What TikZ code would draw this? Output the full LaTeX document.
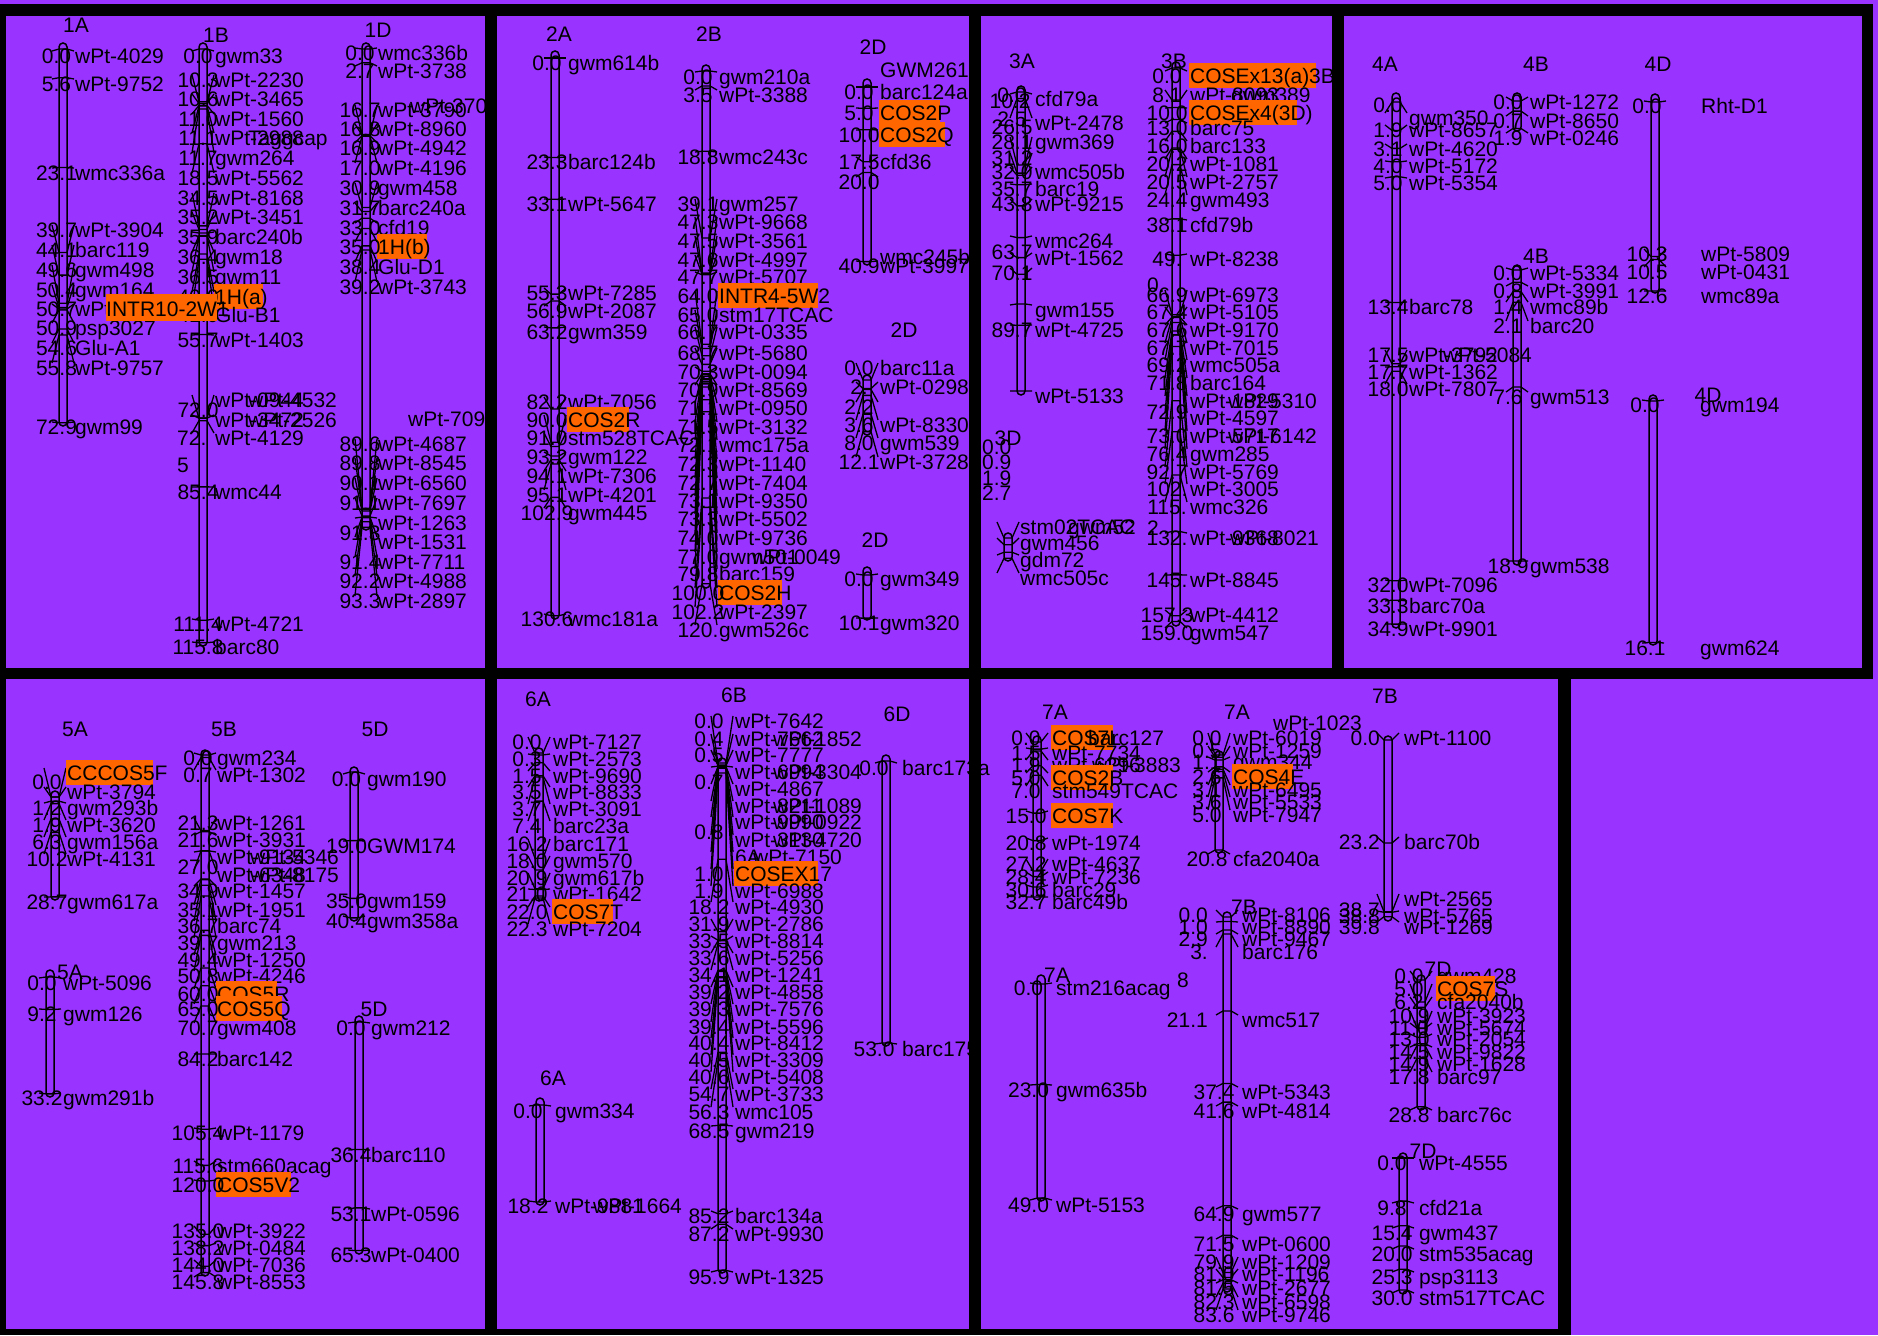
\documentclass[tikz,border=0pt]{standalone}
\usepackage{fontspec}
\setmainfont{Liberation Sans}
\definecolor{pbg}{HTML}{9933FF}
\definecolor{hor}{HTML}{FF6600}
\newcounter{nd}
\newcommand\lf{\fontsize{21}{21}\selectfont}
\newcommand\setchr[5]{\def\cx{#1}\def\ctop{#2}\def\cscale{#3}\def\numoff{#4}\def\nameoff{#5}}
\def\numanch{base}
\newcommand\chrom[2]{\draw[chr] (\cx-4,#1) rectangle (\cx+4,#2);}
\newcommand\mk[4]{%
 \pgfmathsetmacro\tk{\ctop+(#2)*\cscale}%
 \pgfmathsetmacro\ly{#1-5}%
 \draw[mln] (\cx-11,\ly) -- (\cx-4,\tk) -- (\cx+4,\tk) -- (\cx+11,\ly);%
 \stepcounter{nd}\node[lbl,anchor=\numanch] (n\arabic{nd}) at (\cx+\numoff,#1+7.5) {#3};%
 \stepcounter{nd}\node[lbl,anchor=base west] (n\arabic{nd}) at (\cx+\nameoff,#1+7.5) {#4};%
}
\newcommand\mkb[5]{%
 \pgfmathsetmacro\tk{\ctop+(#2)*\cscale}%
 \pgfmathsetmacro\ly{#1-5}%
 \draw[mln] (\cx-11,\ly) -- (\cx-4,\tk) -- (\cx+4,\tk) -- (\cx+11,\ly);%
 \fill[hor] (\cx+\nameoff-1,#1-13) rectangle (#5,#1+12);%
 \stepcounter{nd}\node[lbl,anchor=\numanch] (n\arabic{nd}) at (\cx+\numoff,#1+7.5) {#3};%
 \stepcounter{nd}\node[lbl,anchor=base west] (n\arabic{nd}) at (\cx+\nameoff,#1+7.5) {#4};%
}
\newcommand\ftw[3]{\stepcounter{nd}\node[lbl,anchor=base west] (n\arabic{nd}) at (#1,#2+7.5) {#3};}
\newcommand\ftc[3]{\stepcounter{nd}\node[lbl,anchor=base] (n\arabic{nd}) at (#1,#2+7.5) {#3};}
\newcommand\fte[3]{\stepcounter{nd}\node[lbl,anchor=base east] (n\arabic{nd}) at (#1,#2+7.5) {#3};}
\begin{document}
\begin{tikzpicture}[x=1pt,y=-1pt,
  lbl/.style={font=\lf,inner sep=0pt,text=black},
  mln/.style={line width=1.3pt,line join=round},
  chr/.style={draw=black,line width=1.5pt,rounded corners=4pt}]
\useasboundingbox (0,0) rectangle (1878,1335);
\fill[pbg] (0,0) rectangle (1878,1335);
% ================= PANEL 1 =================
\ftc{76}{25}{1A}\ftc{216}{35}{1B}\ftc{378}{30}{1D}
\setchr{63}{49}{5.127}{-6.5}{12}
\chrom{43}{426}
\mk{56}{0}{0.0}{wPt-4029}
\mk{84}{5.6}{5.6}{wPt-9752}
\mk{173}{23.1}{23.1}{wmc336a}
\mk{230}{39.7}{39.7}{wPt-3904}
\mk{250}{44.1}{44.1}{barc119}
\mk{270}{49.6}{49.6}{gwm498}
\mk{290}{50.4}{50.4}{gwm164}
\mk{309}{50.7}{50.7}{wPt}
\mk{328}{50.9}{50.9}{psp3027}
\mk{348}{54.6}{54.6}{Glu-A1}
\mk{368}{55.8}{55.8}{wPt-9757}
\mk{427}{72.9}{72.9}{gwm99}
\setchr{203}{49}{5.127}{-5}{12}
\chrom{43}{646}
\mk{56}{0}{0.0}{gwm33}
\mk{80}{10.3}{10.3}{wPt-2230}
\mk{99}{10.6}{10.6}{wPt-3465}
\mk{119}{11.0}{11.0}{wPt-1560}
\mk{138}{11.1}{11.1}{wPt-2988}
\ftw{248}{138}{Taggcap}
\mk{158}{11.7}{11.7}{gwm264}
\mk{178}{18.5}{18.5}{wPt-5562}
\mk{198}{34.5}{34.5}{wPt-8168}
\mk{217}{35.2}{35.2}{wPt-3451}
\mk{237}{35.9}{35.9}{barc240b}
\mk{257}{36.4}{36.4}{gwm18}
\mk{277}{36.5}{36.5}{gwm11}
\mkb{297}{40.0}{40.0}{1H(a)}{263}
\mk{315}{41.0}{41.0}{Glu-B1}
\mk{340}{55.7}{55.7}{wPt-1403}
\mk{400}{72.0}{}{wPt-0944}
\ftw{248}{400}{wPt-4532}
\mk{420}{72.0}{}{wPt-3472}
\ftw{248}{420}{wPt-2526}
\ftc{198}{410}{72.0}
\mk{438}{72.5}{}{wPt-4129}
\ftw{177}{438}{72.}
\ftw{177}{465}{5}
\mk{492}{85.4}{85.4}{wmc44}
\mk{624}{111.4}{111.4}{wPt-4721}
\mk{647}{115.8}{115.8}{barc80}
\setchr{366}{49}{5.127}{-6}{12}
\chrom{43}{530}
\mk{53}{0}{0.0}{wmc336b}
\mk{71}{2.7}{2.7}{wPt-3738}
\mk{110}{16.7}{16.7}{wPt-3790}
\ftw{410}{106}{wPt-370}
\mk{129}{16.8}{16.8}{wPt-8960}
\mk{148}{16.9}{16.9}{wPt-4942}
\mk{168}{17.0}{17.0}{wPt-4196}
\mk{188}{30.9}{30.9}{gwm458}
\mk{208}{31.7}{31.7}{barc240a}
\mk{228}{33.0}{33.0}{cfd19}
\mkb{247}{35.0}{35.0}{1H(b)}{427}
\mk{267}{38.4}{38.4}{Glu-D1}
\mk{287}{39.2}{39.2}{wPt-3743}
\ftw{408}{419}{wPt-709}
\mk{444}{89.6}{89.6}{wPt-4687}
\mk{463}{89.8}{89.8}{wPt-8545}
\mk{483}{90.1}{90.1}{wPt-6560}
\mk{503}{91.1}{91.1}{wPt-7697}
\mk{523}{91.3}{}{wPt-1263}
\mk{542}{91.3}{}{wPt-1531}
\ftc{360}{533}{91.3}
\mk{562}{91.4}{91.4}{wPt-7711}
\mk{581}{92.2}{92.2}{wPt-4988}
\mk{601}{93.3}{93.3}{wPt-2897}
\fill[hor] (106,294) rectangle (217,321);
\ftw{106}{309}{INTR10-2W1}
% ================= PANEL 2 =================
\ftc{559}{34}{2A}\ftc{709}{34}{2B}\ftc{873}{47}{2D}\ftc{904}{330}{2D}\ftc{875}{540}{2D}
\setchr{555}{58}{4.27}{-8}{13}
\chrom{51}{619}
\mk{63}{0}{0.0}{gwm614b}
\mk{162}{23.3}{23.3}{barc124b}
\mk{204}{33.1}{33.1}{wPt-5647}
\mk{293}{55.3}{55.3}{wPt-7285}
\mk{311}{56.9}{56.9}{wPt-2087}
\mk{332}{63.2}{63.2}{gwm359}
\mk{402}{82.2}{82.2}{wPt-7056}
\mkb{420}{90.0}{90.0}{COS2R}{629}
\mk{438}{91.0}{91.0}{stm528TCAC}
\mk{457}{93.2}{93.2}{gwm122}
\mk{476}{94.1}{94.1}{wPt-7306}
\mk{495}{95.1}{95.1}{wPt-4201}
\mk{513}{102.9}{102.9}{gwm445}
\mk{619}{130.6}{130.6}{wmc181a}
\setchr{706}{71}{4.27}{-8}{13}
\chrom{65}{588}
\mk{77}{0}{0.0}{gwm210a}
\mk{95}{3.5}{3.5}{wPt-3388}
\mk{157}{18.8}{18.8}{wmc243c}
\mk{204}{39.1}{39.1}{gwm257}
\mk{222}{47.3}{47.3}{wPt-9668}
\mk{241}{47.5}{47.5}{wPt-3561}
\mk{260}{47.6}{47.6}{wPt-4997}
\mk{277}{47.7}{47.7}{wPt-5707}
\mkb{296}{64.0}{64.0}{INTR4-5W2}{818}
\mk{315}{65.0}{65.0}{stm17TCAC}
\mk{332}{66.7}{66.7}{wPt-0335}
\mk{353}{68.7}{68.7}{wPt-5680}
\mk{372}{70.3}{70.3}{wPt-0094}
\mk{390}{70.9}{70.9}{wPt-8569}
\mk{408}{71.1}{71.1}{wPt-0950}
\mk{427}{71.5}{71.5}{wPt-3132}
\mk{445}{72.1}{72.1}{wmc175a}
\mk{464}{72.3}{72.3}{wPt-1140}
\mk{483}{72.7}{72.7}{wPt-7404}
\mk{501}{73.1}{73.1}{wPt-9350}
\mk{519}{73.3}{73.3}{wPt-5502}
\mk{538}{74.0}{74.0}{wPt-9736}
\mk{557}{77.0}{77.0}{gwm501}
\ftw{752}{557}{wPt-0049}
\mk{574}{79.8}{79.8}{barc159}
\mkb{593}{100.0}{100.0}{COS2H}{782}
\mk{612}{102.2}{102.2}{wPt-2397}
\mk{630}{120.1}{120.}{gwm526c}
\setchr{867}{87}{4.27}{-8}{13}
\chrom{79}{265}
\ftw{880}{70}{GWM261}
\mk{92}{0}{0.0}{barc124a}
\mkb{113}{5}{5.0}{COS2P}{940}
\mkb{135}{10}{10.0}{COS2Q}{945}
\mk{162}{17.5}{17.5}{cfd36}
\mk{182}{20}{20.0}{}
\ftw{880}{257}{wmc245b}
\mk{266}{40.9}{40.9}{wPt-3997}
\setchr{867}{380}{4.27}{-8}{13}
\chrom{375}{435}
\mk{368}{0}{0.0}{barc11a}
\mk{387}{2.0}{2.}{wPt-0298}
\mk{407}{2.2}{2.2}{}
\mk{425}{3.6}{3.6}{wPt-8330}
\mk{443}{8.0}{8.0}{gwm539}
\mk{462}{12.1}{12.1}{wPt-3728}
\setchr{867}{575}{4.27}{-8}{13}
\chrom{567}{620}
\mk{579}{0}{0.0}{gwm349}
\mk{623}{10.1}{10.1}{gwm320}
% ================= PANEL 3 =================
\ftc{1022}{61}{3A}\ftc{1174}{61}{3B}\ftc{1008}{438}{3D}
\setchr{1021}{92}{2.6}{-9}{14}
\chrom{86}{395}
\mk{99}{0}{}{cfd79a}
\ftc{1012}{95}{0.0}\ftc{1010}{101}{10.2}
\mk{123}{2.5}{}{wPt-2478}
\ftc{1012}{119}{2.5}\ftc{1012}{127}{26.5}
\mk{142}{28.1}{28.1}{gwm369}
\mk{158}{31.2}{31.2}{}
\mk{172}{32.0}{32.0}{wmc505b}
\mk{189}{35.7}{35.7}{barc19}
\mk{204}{43.8}{43.8}{wPt-9215}
\mk{241}{56}{}{wmc264}
\mk{258}{63.7}{}{wPt-1562}
\ftc{1012}{252}{63.7}
\mk{273}{70.1}{70.1}{}
\mk{310}{81.5}{}{gwm155}
\mk{330}{89.7}{89.7}{wPt-4725}
\mk{396}{115}{}{wPt-5133}
\setchr{1176}{68}{3.96}{-9}{14}
\chrom{62}{626}
\mkb{76}{0}{0.0}{COSEx13(a)3B}{1316}
\mk{95}{8.1}{8.1}{wPt-8093}
\ftw{1231}{95}{gwm389}
\mkb{113}{10.0}{10.0}{COSEx4(3D)}{1297}
\mk{128}{13.0}{13.0}{barc75}
\mk{146}{16.0}{16.0}{barc133}
\mk{164}{20.2}{20.2}{wPt-1081}
\mk{182}{20.5}{20.5}{wPt-2757}
\mk{200}{24.4}{24.4}{gwm493}
\setchr{1176}{92}{3.33}{-9}{14}
\mk{225}{38.1}{38.1}{cfd79b}
\mk{259}{49.0}{49.}{wPt-8238}
\ftw{1147}{285}{0.}
\mk{295}{66.9}{66.9}{wPt-6973}
\mk{312}{67.4}{67.4}{wPt-5105}
\mk{330}{67.6}{67.6}{wPt-9170}
\mk{348}{67.7}{67.7}{wPt-7015}
\mk{365}{69.2}{69.2}{wmc505a}
\mk{383}{71.8}{71.8}{barc164}
\mk{401}{72.9}{}{wPt-1829}
\ftw{1228}{401}{wPt-5310}
\mk{418}{72.9}{}{wPt-4597}
\ftc{1167}{412}{72.9}
\mk{436}{73.0}{73.0}{wPt-5717}
\ftw{1228}{436}{wPt-6142}
\mk{454}{76.4}{76.4}{gwm285}
\mk{472}{92.7}{92.7}{wPt-5769}
\mk{489}{102}{102.}{wPt-3005}
\mk{507}{115}{115.}{wmc326}
\ftw{1147}{528}{2}
\mk{538}{132}{132.}{wPt-9368}
\ftw{1230}{538}{wPt-8021}
\mk{580}{145}{145.}{wPt-8845}
\mk{615}{157.3}{157.3}{wPt-4412}
\mk{633}{159.0}{159.0}{gwm547}
\setchr{1008}{538}{7.5}{0}{12}
\chrom{533}{561}
\mk{527}{0}{}{stm02TCAC}
\ftw{1068}{527}{gwm52}
\mk{543}{0.9}{}{gwm456}
\mk{560}{1.9}{}{gdm72}
\mk{578}{2.7}{}{wmc505c}
\ftw{982}{447}{0.0}\ftw{982}{462}{0.9}\ftw{982}{478}{1.9}\ftw{982}{493}{2.7}
% ================= PANEL 4 =================
\ftc{1385}{64}{4A}\ftc{1536}{64}{4B}\ftc{1658}{64}{4D}\ftc{1536}{256}{4B}\ftc{1708}{395}{4D}
\setchr{1396}{102}{14.96}{-8}{13}
\chrom{93}{628}
\mk{118}{0}{}{gwm350}
\ftc{1388}{105}{0.0}
\mk{130}{1.9}{1.9}{wPt-8657}
\mk{149}{3.1}{3.1}{wPt-4620}
\mk{166}{4.0}{4.0}{wPt-5172}
\mk{183}{5.0}{5.0}{wPt-5354}
\mk{307}{13.4}{13.4}{barc78}
\mk{355}{17.5}{17.5}{wPt-3792}
\ftw{1443}{355}{wPt-5084}
\mk{372}{17.7}{17.7}{wPt-1362}
\mk{389}{18.0}{18.0}{wPt-7807}
\mk{585}{32.0}{32.0}{wPt-7096}
\mk{606}{33.3}{33.3}{barc70a}
\mk{629}{34.9}{34.9}{wPt-9901}
\setchr{1517}{101}{14.5}{-9}{13}
\chrom{93}{131}
\mk{102}{0}{0.0}{wPt-1272}
\mk{121}{0.7}{0.7}{wPt-8650}
\mk{138}{1.9}{1.9}{wPt-0246}
\setchr{1517}{270}{15.4}{-9}{13}
\chrom{265}{565}
\mk{273}{0}{0.0}{wPt-5334}
\mk{291}{0.8}{0.8}{wPt-3991}
\mk{307}{1.4}{1.4}{wmc89b}
\mk{326}{2.1}{2.1}{barc20}
\mk{397}{7.6}{7.6}{gwm513}
\mk{566}{18.9}{18.9}{gwm538}
\setchr{1655}{102}{15}{-8}{46}
\chrom{94}{293}
\mk{106}{0}{0.0}{Rht-D1}
\mk{254}{10.3}{10.3}{wPt-5809}
\mk{272}{10.5}{10.5}{wPt-0431}
\mk{296}{12.6}{12.6}{wmc89a}
\setchr{1653}{401}{15}{-8}{47}
\chrom{395}{645}
\mk{405}{0}{0.0}{gwm194}
\mk{648}{16.1}{16.1}{gwm624}
% ================= PANEL 5 =================
\ftc{75}{729}{5A}\ftc{224}{729}{5B}\ftc{375}{729}{5D}\ftc{70}{972}{5A}\ftc{374}{1009}{5D}
\setchr{55}{797}{3.48}{-8}{12}
\chrom{791}{900}
\mkb{773}{0}{}{CCCOS5F}{153}
\mk{792}{0}{}{wPt-3794}
\ftc{47}{782}{0.0}
\mk{808}{1.2}{1.2}{gwm293b}
\mk{825}{1.9}{1.9}{wPt-3620}
\mk{842}{6.3}{6.3}{gwm156a}
\mk{859}{10.2}{10.2}{wPt-4131}
\mk{902}{28.7}{28.7}{gwm617a}
\setchr{50}{977}{3.52}{-8}{13}
\chrom{970}{1097}
\mk{983}{0}{0.0}{wPt-5096}
\mk{1014}{9.2}{9.2}{gwm126}
\mk{1098}{33.2}{33.2}{gwm291b}
\setchr{205}{755}{3.55}{-7}{12}
\chrom{750}{1276}
\mk{758}{0}{0.0}{gwm234}
\mk{775}{0.7}{0.7}{wPt-1302}
\mk{823}{21.3}{21.3}{wPt-1261}
\mk{840}{21.6}{21.6}{wPt-3931}
\mk{857}{27.0}{}{wPt-9134}
\ftw{250}{857}{wPt-5346}
\mk{875}{27.0}{}{wPt-6348}
\ftw{250}{875}{wPt-8175}
\ftc{198}{867}{27.0}
\mk{891}{34.9}{34.9}{wPt-1457}
\mk{910}{35.1}{35.1}{wPt-1951}
\mk{926}{36.7}{36.7}{barc74}
\mk{943}{39.7}{39.7}{gwm213}
\mk{960}{49.4}{49.4}{wPt-1250}
\mk{976}{50.8}{50.8}{wPt-4246}
\mkb{994}{60.0}{60.0}{COS5R}{277}
\mkb{1009}{65.0}{65.0}{COS5Q}{282}
\mk{1028}{70.7}{70.7}{gwm408}
\mk{1059}{84.2}{84.2}{barc142}
\mk{1133}{105.4}{105.4}{wPt-1179}
\mk{1166}{115.6}{115.6}{stm660acag}
\mkb{1185}{120.0}{120.0}{COS5V2}{291}
\mk{1231}{135.0}{135.0}{wPt-3922}
\mk{1248}{138.2}{138.2}{wPt-0484}
\mk{1265}{144.0}{144.0}{wPt-7036}
\mk{1282}{145.8}{145.8}{wPt-8553}
\setchr{354}{772}{3.61}{-7.5}{13}
\chrom{767}{921}
\mk{779}{0}{0.0}{gwm190}
\mk{846}{19.0}{19.0}{GWM174}
\mk{901}{35.0}{35.0}{gwm159}
\mk{921}{40.4}{40.4}{gwm358a}
\setchr{359}{1022}{3.5}{-8}{12}
\chrom{1016}{1254}
\mk{1028}{0}{0.0}{gwm212}
\mk{1155}{36.4}{36.4}{barc110}
\mk{1214}{53.1}{53.1}{wPt-0596}
\mk{1255}{65.3}{65.3}{wPt-0400}
% ================= PANEL 6 =================
\ftc{538}{699}{6A}\ftc{734}{695}{6B}\ftc{897}{714}{6D}\ftc{553}{1078}{6A}
\setchr{539}{753}{6.5}{-12}{14}
\chrom{748}{901}
\mk{742}{0}{0.0}{wPt-7127}
\mk{759}{0.3}{0.3}{wPt-2573}
\mk{776}{1.5}{1.5}{wPt-9690}
\mk{792}{3.5}{3.5}{wPt-8833}
\mk{809}{3.7}{3.7}{wPt-3091}
\mk{826}{7.4}{7.4}{barc23a}
\mk{844}{16.2}{16.2}{barc171}
\mk{861}{18.0}{18.0}{gwm570}
\mk{878}{20.9}{20.9}{gwm617b}
\mk{894}{21.0}{21.0}{wPt-1642}
\mkb{912}{22.0}{22.0}{COS7T}{613}
\mk{929}{22.3}{22.3}{wPt-7204}
\setchr{540}{1105}{5.33}{-12}{15}
\chrom{1098}{1205}
\mk{1111}{0}{0.0}{gwm334}
\mk{1206}{18.2}{18.2}{wPt-9881}
\ftw{593}{1206}{wPt-1664}
\setchr{722}{763}{5.29}{-13}{13}
\chrom{758}{1273}
\mk{721}{0}{0.0}{wPt-7642}
\mk{739}{0.4}{0.4}{wPt-7662}
\ftw{773}{739}{wPt-1852}
\mk{755}{0.5}{0.5}{wPt-7777}
\mk{772}{0.6}{}{wPt-6994}
\ftw{773}{772}{wPt-3304}
\mk{789}{0.7}{}{wPt-4867}
\ftc{709}{782}{0.7}
\mk{806}{0.7}{}{wPt-8211}
\ftw{773}{806}{wPt-1089}
\mk{822}{0.8}{}{wPt-9990}
\ftw{773}{822}{wPt-0922}
\ftc{709}{832}{0.8}
\mk{840}{0.8}{}{wPt-3130}
\ftw{773}{840}{wPt-4720}
\mk{857}{0.9}{}{}
\ftw{735}{857}{6A}\ftw{753}{857}{wPt-7150}
\mkb{874}{1.0}{1.0}{COSEX17}{818}
\mk{891}{1.9}{1.9}{wPt-6988}
\mk{907}{18.2}{18.2}{wPt-4930}
\mk{924}{31.9}{31.9}{wPt-2786}
\mk{941}{33.5}{33.5}{wPt-8814}
\mk{958}{33.6}{33.6}{wPt-5256}
\mk{975}{34.1}{34.1}{wPt-1241}
\mk{992}{39.2}{39.2}{wPt-4858}
\mk{1009}{39.3}{39.3}{wPt-7576}
\mk{1027}{39.4}{39.4}{wPt-5596}
\mk{1043}{40.4}{40.4}{wPt-8412}
\mk{1060}{40.5}{40.5}{wPt-3309}
\mk{1077}{40.6}{40.6}{wPt-5408}
\mk{1094}{54.7}{54.7}{wPt-3733}
\mk{1112}{56.3}{56.3}{wmc105}
\mk{1131}{68.5}{68.5}{gwm219}
\mk{1216}{85.2}{85.2}{barc134a}
\mk{1234}{87.2}{87.2}{wPt-9930}
\mk{1277}{95.9}{95.9}{wPt-1325}
\setchr{886}{761}{5.32}{-12}{16}
\chrom{755}{1046}
\mk{768}{0}{0.0}{barc173a}
\mk{1049}{53.0}{53.0}{barc175}
% ================= PANEL 7 =================
\ftc{1055}{712}{7A}\ftc{1237}{712}{7A}\ftc{1385}{696}{7B}\ftc{1057}{975}{7A}
\ftc{1244}{907}{7B}\ftc{1438}{969}{7D}\ftc{1423}{1151}{7D}
\setchr{1037}{742}{4.74}{-11}{15}
\chrom{736}{900}
\mkb{738}{0}{0.0}{COS7L}{1113}
\ftw{1088}{738}{barc127}
\mk{753}{1.5}{1.5}{wPt-7734}
\mk{765}{1.9}{1.9}{wPt-6296}
\ftw{1092}{765}{wPt-3883}
\mkb{778}{5.0}{5.0}{COS2B}{1113}
\mk{791}{7.0}{7.0}{stm549TCAC}
\mkb{816}{15.0}{15.0}{COS7K}{1113}
\mk{843}{20.8}{20.8}{wPt-1974}
\mk{864}{27.2}{27.2}{wPt-4637}
\mk{877}{28.4}{28.4}{wPt-7236}
\mk{890}{30.6}{30.6}{barc29}
\mk{902}{32.7}{32.7}{barc49b}
\setchr{1219}{755}{4.57}{-12}{14}
\chrom{751}{853}
\ftw{1273}{723}{wPt-1023}
\mk{738}{0}{0.0}{wPt-6019}
\mk{751}{0.5}{0.5}{wPt-1259}
\mk{762}{1.1}{1.1}{gwm344}
\mkb{777}{2.6}{2.6}{COS4E}{1293}
\mk{790}{3.1}{3.1}{wPt-6495}
\mk{802}{3.6}{3.6}{wPt-5533}
\mk{815}{5.0}{5.0}{wPt-7947}
\mk{859}{20.8}{20.8}{cfa2040a}
\setchr{1041}{984}{4.37}{-12.5}{15}
\chrom{975}{1201}
\mk{988}{0}{0.0}{stm216acag}
\mk{1090}{23.0}{23.0}{gwm635b}
\mk{1205}{49.0}{49.0}{wPt-5153}
\def\numanch{base east}
\setchr{1388}{740}{4.44}{-8}{16}
\chrom{736}{921}
\mk{738}{0}{0.0}{wPt-1100}
\mk{842}{23.2}{23.2}{barc70b}
\mk{899}{38.7}{}{wPt-2565}
\fte{1380}{910}{38.7}
\mk{916}{38.8}{38.8}{wPt-5765}
\mk{927}{39.8}{39.8}{wPt-1269}
\setchr{1227}{917}{4.45}{-19}{15}
\chrom{912}{1292}
\mk{915}{0}{0.0}{wPt-8106}
\mk{927}{1.0}{1.0}{wPt-8890}
\mk{939}{2.9}{2.9}{wPt-9467}
\mk{952}{3.8}{3.}{barc176}
\ftw{1177}{980}{8}
\mk{1020}{21.1}{21.1}{wmc517}
\def\numanch{base}
\setchr{1227}{917}{4.45}{-13}{15}
\mk{1092}{37.4}{37.4}{wPt-5343}
\mk{1111}{41.6}{41.6}{wPt-4814}
\mk{1214}{64.9}{64.9}{gwm577}
\mk{1244}{71.5}{71.5}{wPt-0600}
\mk{1262}{79.9}{79.9}{wPt-1209}
\mk{1274}{81.0}{81.0}{wPt-1196}
\mk{1288}{81.5}{81.5}{wPt-2677}
\mk{1302}{82.3}{82.3}{wPt-6598}
\mk{1315}{83.6}{83.6}{wPt-9746}
\setchr{1421}{980}{4.4}{-12}{16}
\chrom{975}{1110}
\mk{976}{0}{0.0}{gwm428}
\mkb{989}{5.0}{5.0}{COS7S}{1495}
\mk{1002}{6.2}{6.2}{cfa2040b}
\mk{1016}{10.9}{10.9}{wPt-3923}
\mk{1028}{11.0}{11.0}{wPt-5674}
\mk{1039}{13.0}{13.0}{wPt-2054}
\mk{1052}{14.5}{14.5}{wPt-9822}
\mk{1064}{14.9}{14.9}{wPt-1628}
\mk{1077}{17.8}{17.8}{barc97}
\mk{1115}{28.8}{28.8}{barc76c}
\setchr{1403}{1158}{4.4}{-11}{16}
\chrom{1153}{1294}
\mk{1163}{0}{0.0}{wPt-4555}
\mk{1208}{9.8}{9.8}{cfd21a}
\mk{1233}{15.4}{15.4}{gwm437}
\mk{1254}{20.0}{20.0}{stm535acag}
\mk{1277}{25.3}{25.3}{psp3113}
\mk{1298}{30.0}{30.0}{stm517TCAC}
% ================= FRAMES =================
\fill[black] (0,4) rectangle (1873,16);
\fill[black] (0,668) rectangle (1873,679);
\fill[black] (0,1329) rectangle (1571,1335);
\fill[black] (0,4) rectangle (6,1335);
\fill[black] (485,4) rectangle (497,1335);
\fill[black] (969,4) rectangle (981,1335);
\fill[black] (1332,4) rectangle (1344,679);
\fill[black] (1862,4) rectangle (1873,679);
\fill[black] (1558,668) rectangle (1571,1335);
\end{tikzpicture}
\end{document}
